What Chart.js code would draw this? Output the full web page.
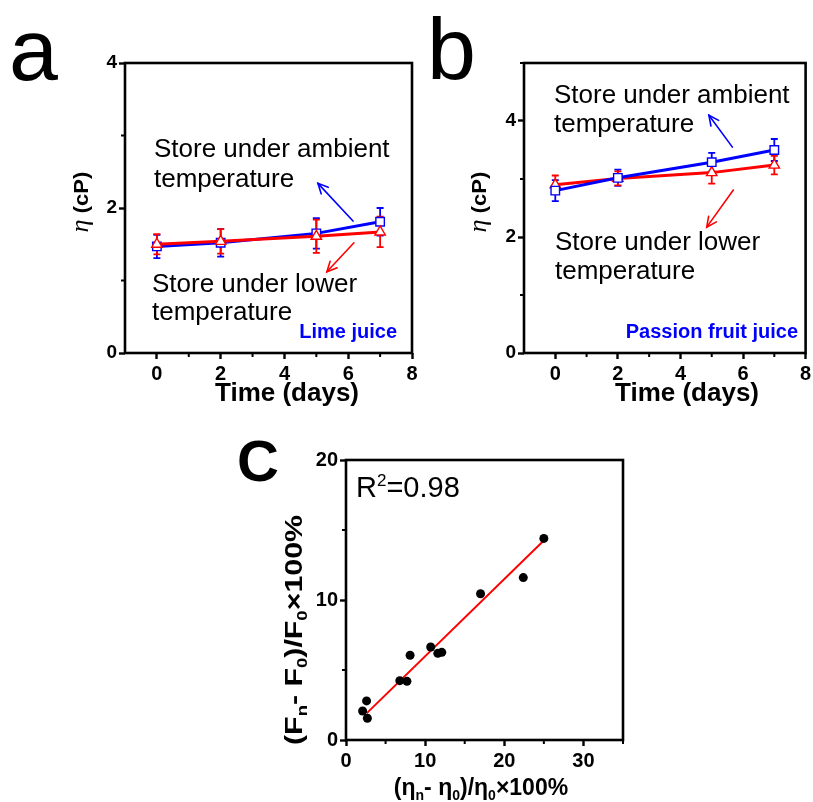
<!DOCTYPE html>
<html><head><meta charset="utf-8">
<script src="https://cdn.jsdelivr.net/npm/chart.js@4.4.1/dist/chart.umd.min.js"></script>
<style>
html,body{margin:0;padding:0;background:#fff;width:813px;height:802px;overflow:hidden}
canvas{position:absolute;left:0;top:0}
</style></head><body>
<canvas id="ca" width="813" height="802"></canvas>
<canvas id="cb" width="813" height="802"></canvas>
<canvas id="cc" width="813" height="802"></canvas>
<script>
// ---------- data ----------
const days = [0, 2, 5, 7];
const limeAmbient = [1.47, 1.52, 1.65, 1.81];
const limeAmbientErr = [0.16, 0.19, 0.21, 0.19];
const limeLower = [1.50, 1.54, 1.61, 1.67];
const limeLowerErr = [0.14, 0.17, 0.23, 0.21];
const passionAmbient = [2.80, 3.02, 3.29, 3.50];
const passionAmbientErr = [0.18, 0.14, 0.16, 0.19];
const passionLower = [2.90, 3.01, 3.11, 3.24];
const passionLowerErr = [0.16, 0.12, 0.19, 0.16];
const viscChange = [2.1, 2.6, 2.7, 6.8, 7.7, 8.1, 10.7, 11.6, 12.1, 17.0, 22.4, 25.0];
const fluorChange = [2.07, 2.79, 1.55, 4.24, 4.19, 6.05, 6.64, 6.19, 6.26, 10.45, 11.6, 14.4];
const fitX = [2.6, 24.9];
const fitY = [1.9, 14.2];
const timeTicks = [0, 2, 4, 6, 8];
const timeMinor = [1, 3, 5, 7];
const limeTicks = [0, 2, 4];
const limeMinor = [1, 3];
const passionTicks = [0, 2, 4];
const passionMinor = [1, 3, 5];
const cXTicks = [0, 10, 20, 30];
const cXMinor = [5, 15, 25, 35];
const cYTicks = [0, 10, 20];
const cYMinor = [5, 15];

const BLUE = '#0000ff', RED = '#ff0000';
const SANS = "'Liberation Sans', Arial, sans-serif";

function pts(xs, ys) { return xs.map((x, i) => ({x: x, y: ys[i]})); }

function drawRich(ctx, segs, x, y, opt) {
  opt = opt || {};
  ctx.save();
  ctx.translate(x, y);
  if (opt.rot) ctx.rotate(opt.rot);
  ctx.scale(opt.sx || 1, 1);
  let total = 0;
  const ws = segs.map(s => { ctx.font = s.font; const w = ctx.measureText(s.t).width; total += w; return w; });
  let cx = opt.align === 'center' ? -total / 2 : (opt.align === 'right' ? -total : 0);
  ctx.textBaseline = 'alphabetic';
  ctx.textAlign = 'left';
  ctx.fillStyle = opt.color || '#000';
  segs.forEach((s, i) => { ctx.font = s.font; ctx.fillText(s.t, cx, s.dy || 0); cx += ws[i]; });
  ctx.restore();
}

function arrow(ctx, x1, y1, x2, y2, color) {
  ctx.save();
  ctx.strokeStyle = color; ctx.lineWidth = 1.6; ctx.lineCap = 'round';
  ctx.beginPath(); ctx.moveTo(x1, y1); ctx.lineTo(x2, y2); ctx.stroke();
  const a = Math.atan2(y2 - y1, x2 - x1), L = 11, s = 0.45;
  ctx.beginPath();
  ctx.moveTo(x2 - L * Math.cos(a - s), y2 - L * Math.sin(a - s));
  ctx.lineTo(x2, y2);
  ctx.lineTo(x2 - L * Math.cos(a + s), y2 - L * Math.sin(a + s));
  ctx.stroke();
  ctx.restore();
}

function decoPlugin(cfg) {
  return {
    id: 'deco',
    beforeDatasetsDraw(chart) {
      const ctx = chart.ctx, ys = chart.scales.y;
      (cfg.errors || []).forEach(e => {
        const meta = chart.getDatasetMeta(e.ds);
        ctx.save();
        ctx.strokeStyle = e.color; ctx.lineWidth = 1.8;
        meta.data.forEach((p, i) => {
          const v = chart.data.datasets[e.ds].data[i].y;
          const yt = ys.getPixelForValue(v + e.err[i]), yb = ys.getPixelForValue(v - e.err[i]);
          ctx.beginPath();
          ctx.moveTo(p.x, yt); ctx.lineTo(p.x, yb);
          ctx.moveTo(p.x - 3.5, yt); ctx.lineTo(p.x + 3.5, yt);
          ctx.moveTo(p.x - 3.5, yb); ctx.lineTo(p.x + 3.5, yb);
          ctx.stroke();
        });
        ctx.restore();
      });
    },
    afterDraw(chart) {
      const ctx = chart.ctx, a = chart.chartArea, xs = chart.scales.x, ys = chart.scales.y;
      ctx.save();
      ctx.strokeStyle = '#000'; ctx.lineWidth = 2.6;
      ctx.strokeRect(a.left, a.top, a.right - a.left, a.bottom - a.top);
      ctx.lineWidth = 2;
      ctx.beginPath();
      (cfg.minorX || []).forEach(v => { const px = xs.getPixelForValue(v); ctx.moveTo(px, a.bottom); ctx.lineTo(px, a.bottom + 4); });
      (cfg.minorY || []).forEach(v => { const py = ys.getPixelForValue(v); ctx.moveTo(a.left, py); ctx.lineTo(a.left - 4, py); });
      ctx.stroke();
      ctx.restore();
      (cfg.arrows || []).forEach(r => arrow(ctx, xs.getPixelForValue(r[0]), ys.getPixelForValue(r[1]),
        xs.getPixelForValue(r[2]), ys.getPixelForValue(r[3]), r[4]));
      (cfg.texts || []).forEach(t => drawRich(ctx, t.segs, t.x, t.y, t.opt));
    }
  };
}

function axis(min, max, ticks, fontSize, isX, size) {
  return {
    type: 'linear', min: min, max: max,
    afterBuildTicks: s => { s.ticks = ticks.map(v => ({value: v})); },
    afterFit: s => {
      if (isX) s.height = size; else s.width = size;
      s.paddingLeft = s.paddingRight = s.paddingTop = s.paddingBottom = 0;
    },
    border: {display: false},
    grid: {drawOnChartArea: false, drawTicks: true, tickLength: 6, tickWidth: 2.4, tickColor: '#000', color: '#000'},
    ticks: {color: '#000', padding: isX ? 3 : 2, font: {family: SANS, weight: 'bold', size: fontSize}}
  };
}

function lineDs(label, xs, ys, color, style, order) {
  return {
    label: label, data: pts(xs, ys), showLine: true, borderColor: color, borderWidth: 3,
    pointStyle: style, pointRadius: 6, pointBackgroundColor: '#fff', pointBorderColor: color,
    pointBorderWidth: 1.4, order: order
  };
}

const baseOpts = {responsive: false, animation: false, events: [],
  plugins: {legend: {display: false}, tooltip: {enabled: false}}};

const annFont = '26px ' + SANS;
const etaLabel = [{t: 'η', font: 'italic 25px "Liberation Serif", serif'}, {t: ' (cP)', font: 'bold 21px ' + SANS}];
const timeLabel = [{t: 'Time (days)', font: 'bold 26px ' + SANS}];

// ---------- panel a ----------
new Chart(document.getElementById('ca'), {
  type: 'scatter',
  data: {datasets: [
    lineDs('Store under ambient temperature', days, limeAmbient, BLUE, 'rect', 1),
    lineDs('Store under lower temperature', days, limeLower, RED, 'triangle', 0)
  ]},
  options: Object.assign({}, baseOpts, {
    layout: {padding: {left: 85, top: 63, right: 401, bottom: 409}},
    scales: {x: axis(-1, 8, timeTicks, 20, true, 40), y: axis(0, 4, limeTicks, 19, false, 40)}
  }),
  plugins: [decoPlugin({
    errors: [{ds: 0, err: limeAmbientErr, color: BLUE}, {ds: 1, err: limeLowerErr, color: RED}],
    minorX: timeMinor, minorY: limeMinor,
    arrows: [[6.15, 1.82, 5.05, 2.34, BLUE], [6.18, 1.52, 5.33, 1.12, RED]],
    texts: [
      {segs: [{t: 'a', font: '88px ' + SANS}], x: 9, y: 80},
      {segs: [{t: 'Store under ambient', font: annFont}], x: 154, y: 157},
      {segs: [{t: 'temperature', font: annFont}], x: 154, y: 187},
      {segs: [{t: 'Store under lower', font: annFont}], x: 152, y: 292},
      {segs: [{t: 'temperature', font: annFont}], x: 152, y: 320},
      {segs: [{t: 'Lime juice', font: 'bold 20px ' + SANS}], x: 397, y: 338, opt: {align: 'right', color: BLUE}},
      {segs: timeLabel, x: 287, y: 401, opt: {align: 'center'}},
      {segs: etaLabel, x: 88, y: 202, opt: {align: 'center', rot: -Math.PI / 2, sx: 1.05}}
    ]
  })]
});

// ---------- panel b ----------
new Chart(document.getElementById('cb'), {
  type: 'scatter',
  data: {datasets: [
    lineDs('Store under ambient temperature', days, passionAmbient, BLUE, 'rect', 0),
    lineDs('Store under lower temperature', days, passionLower, RED, 'triangle', 1)
  ]},
  options: Object.assign({}, baseOpts, {
    layout: {padding: {left: 484, top: 63, right: 1, bottom: 409}},
    scales: {x: axis(-1, 8, timeTicks, 20, true, 40), y: axis(0, 5, passionTicks, 19, false, 40)}
  }),
  plugins: [decoPlugin({
    errors: [{ds: 0, err: passionAmbientErr, color: BLUE}, {ds: 1, err: passionLowerErr, color: RED}],
    minorX: timeMinor, minorY: passionMinor,
    arrows: [[5.66, 3.55, 4.91, 4.10, BLUE], [5.69, 2.81, 4.84, 2.17, RED]],
    texts: [
      {segs: [{t: 'b', font: '88px ' + SANS}], x: 427, y: 79},
      {segs: [{t: 'Store under ambient', font: annFont}], x: 554, y: 103},
      {segs: [{t: 'temperature', font: annFont}], x: 554, y: 132},
      {segs: [{t: 'Store under lower', font: annFont}], x: 555, y: 250},
      {segs: [{t: 'temperature', font: annFont}], x: 555, y: 279},
      {segs: [{t: 'Passion fruit juice', font: 'bold 20px ' + SANS}], x: 798, y: 338, opt: {align: 'right', color: BLUE}},
      {segs: timeLabel, x: 687, y: 401, opt: {align: 'center'}},
      {segs: etaLabel, x: 486, y: 202, opt: {align: 'center', rot: -Math.PI / 2, sx: 1.05}}
    ]
  })]
});

// ---------- panel c ----------
const lb = 'bold 23px ' + SANS, sb = 'bold 14px ' + SANS;
new Chart(document.getElementById('cc'), {
  type: 'scatter',
  data: {datasets: [
    {label: 'fit', data: pts(fitX, fitY), showLine: true, borderColor: RED, borderWidth: 2, pointRadius: 0, order: 1},
    {label: 'data', data: pts(viscChange, fluorChange), pointRadius: 4.5, pointBackgroundColor: '#000',
     pointBorderColor: '#000', borderWidth: 0, order: 0}
  ]},
  options: Object.assign({}, baseOpts, {
    layout: {padding: {left: 306, top: 460, right: 190, bottom: 22}},
    scales: {x: axis(0, 35, cXTicks, 20, true, 40), y: axis(0, 20, cYTicks, 20, false, 40)}
  }),
  plugins: [decoPlugin({
    minorX: cXMinor, minorY: cYMinor,
    texts: [
      {segs: [{t: 'C', font: 'bold 58px ' + SANS}], x: 237, y: 481},
      {segs: [{t: 'R', font: '29px ' + SANS}, {t: '2', font: '17px ' + SANS, dy: -11}, {t: '=0.98', font: '29px ' + SANS}], x: 356, y: 497},
      {segs: [{t: '(η', font: lb}, {t: 'n', font: sb, dy: 5}, {t: '- η', font: lb}, {t: '0', font: sb, dy: 5},
              {t: ')/η', font: lb}, {t: '0', font: sb, dy: 5}, {t: '×100%', font: lb}], x: 481, y: 795, opt: {align: 'center'}},
      {segs: [{t: '(F', font: lb}, {t: 'n', font: sb, dy: 5}, {t: '- F', font: lb}, {t: '0', font: sb, dy: 5},
              {t: ')/F', font: lb}, {t: '0', font: sb, dy: 5}, {t: '×100%', font: lb}], x: 302, y: 630,
       opt: {align: 'center', rot: -Math.PI / 2, sx: 1.32}}
    ]
  })]
});
</script>
</body></html>
